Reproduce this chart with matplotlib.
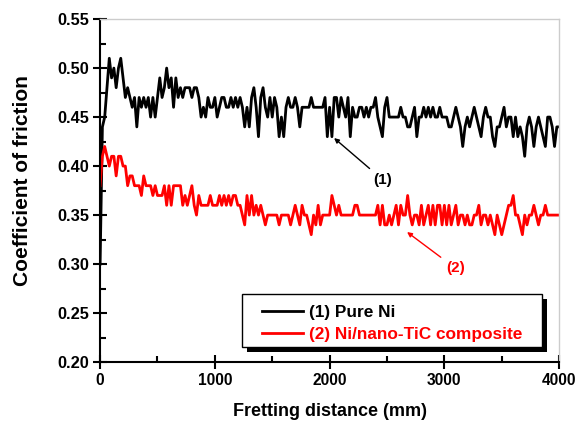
import numpy as np
import matplotlib
matplotlib.use("Agg")
import matplotlib.pyplot as plt
from matplotlib.ticker import MultipleLocator, FormatStrFormatter
from matplotlib.patches import Rectangle

plt.rcParams['font.family'] = ['Liberation Sans', 'DejaVu Sans']
plt.rcParams['font.weight'] = 'bold'

distance = np.arange(0, 4001, 20)

pure_ni = [
    0.30, 0.44, 0.45, 0.48, 0.51, 0.49, 0.50, 0.48, 0.50, 0.51,
    0.49, 0.47, 0.48, 0.47, 0.46, 0.47, 0.44, 0.47, 0.46, 0.47,
    0.46, 0.47, 0.45, 0.47, 0.45, 0.47, 0.49, 0.47, 0.48, 0.50,
    0.48, 0.49, 0.46, 0.49, 0.47, 0.48, 0.47, 0.48, 0.48, 0.48,
    0.47, 0.48, 0.48, 0.47, 0.45, 0.46, 0.45, 0.47, 0.46, 0.46,
    0.47, 0.45, 0.46, 0.47, 0.47, 0.46, 0.46, 0.47, 0.46, 0.47,
    0.46, 0.47, 0.46, 0.44, 0.46, 0.44, 0.47, 0.48, 0.46, 0.43,
    0.47, 0.48, 0.46, 0.45, 0.47, 0.45, 0.47, 0.46, 0.43, 0.45,
    0.43, 0.46, 0.47, 0.46, 0.46, 0.47, 0.46, 0.44, 0.46, 0.46,
    0.46, 0.46, 0.47, 0.46, 0.46, 0.46, 0.46, 0.46, 0.47, 0.43,
    0.46, 0.43, 0.47, 0.47, 0.45, 0.47, 0.46, 0.45, 0.47, 0.43,
    0.46, 0.45, 0.45, 0.46, 0.46, 0.45, 0.46, 0.45, 0.46, 0.46,
    0.47, 0.45, 0.44, 0.43, 0.46, 0.47, 0.45, 0.45, 0.45, 0.45,
    0.45, 0.46, 0.45, 0.45, 0.44, 0.44, 0.45, 0.46, 0.43, 0.45,
    0.45, 0.46, 0.45, 0.46, 0.45, 0.46, 0.45, 0.45, 0.46, 0.45,
    0.45, 0.45, 0.44, 0.44, 0.45, 0.46, 0.45, 0.44, 0.42, 0.44,
    0.45, 0.44, 0.45, 0.46, 0.45, 0.44, 0.43, 0.45, 0.46, 0.45,
    0.45, 0.43, 0.42, 0.44, 0.44, 0.45, 0.46, 0.44, 0.45, 0.45,
    0.43, 0.45, 0.43, 0.44, 0.43, 0.41, 0.44, 0.45, 0.44, 0.42,
    0.44, 0.45, 0.44, 0.43, 0.42, 0.45, 0.45, 0.44, 0.42, 0.44, 0.44,
]

ni_tic = [
    0.38, 0.41, 0.42, 0.41, 0.40, 0.41, 0.41, 0.39, 0.41, 0.41,
    0.40, 0.40, 0.38, 0.39, 0.39, 0.38, 0.38, 0.38, 0.37, 0.39,
    0.38, 0.38, 0.38, 0.37, 0.38, 0.37, 0.37, 0.37, 0.38, 0.36,
    0.38, 0.36, 0.38, 0.38, 0.38, 0.38, 0.36, 0.37, 0.36, 0.37,
    0.38, 0.36, 0.35, 0.37, 0.36, 0.36, 0.36, 0.36, 0.37, 0.36,
    0.36, 0.36, 0.37, 0.36, 0.37, 0.36, 0.37, 0.36, 0.37, 0.37,
    0.36, 0.36, 0.35, 0.34, 0.37, 0.35, 0.37, 0.35, 0.36, 0.35,
    0.36, 0.35, 0.34, 0.35, 0.35, 0.35, 0.35, 0.35, 0.34, 0.35,
    0.35, 0.35, 0.35, 0.34, 0.35, 0.36, 0.35, 0.34, 0.36, 0.35,
    0.35, 0.34, 0.33, 0.35, 0.34, 0.36, 0.34, 0.35, 0.35, 0.35,
    0.35, 0.37, 0.36, 0.35, 0.36, 0.35, 0.35, 0.35, 0.35, 0.35,
    0.35, 0.36, 0.36, 0.35, 0.35, 0.35, 0.35, 0.35, 0.35, 0.35,
    0.35, 0.36, 0.34, 0.36, 0.34, 0.34, 0.35, 0.34, 0.35, 0.36,
    0.34, 0.36, 0.35, 0.35, 0.37, 0.35, 0.34, 0.35, 0.35, 0.34,
    0.36, 0.34, 0.35, 0.36, 0.34, 0.36, 0.34, 0.36, 0.36, 0.34,
    0.36, 0.34, 0.36, 0.34, 0.35, 0.36, 0.34, 0.35, 0.35, 0.34,
    0.35, 0.34, 0.34, 0.35, 0.35, 0.36, 0.34, 0.35, 0.35, 0.34,
    0.35, 0.34, 0.33, 0.35, 0.34, 0.33, 0.34, 0.35, 0.36, 0.36,
    0.37, 0.35, 0.35, 0.34, 0.33, 0.35, 0.34, 0.35, 0.35, 0.36,
    0.35, 0.34, 0.35, 0.35, 0.36, 0.35, 0.35, 0.35, 0.35, 0.35, 0.35,
]

series_labels = ["(1) Pure Ni", "(2) Ni/nano-TiC composite"]
series_colors = ["black", "red"]
x_label = "Fretting distance (mm)"
y_label = "Coefficient of friction"

fig = plt.figure(figsize=(5.82, 4.24), dpi=100)
ax = fig.add_axes([0.172, 0.146, 0.7887, 0.809])

ax.plot(distance, pure_ni, color=series_colors[0], lw=2.0, label=series_labels[0])
ax.plot(distance, ni_tic, color=series_colors[1], lw=2.0, label=series_labels[1])

ax.set_xlim(0, 4000)
ax.set_ylim(0.20, 0.55)
ax.xaxis.set_major_locator(MultipleLocator(1000))
ax.xaxis.set_minor_locator(MultipleLocator(500))
ax.yaxis.set_major_locator(MultipleLocator(0.05))
ax.yaxis.set_minor_locator(MultipleLocator(0.025))
ax.yaxis.set_major_formatter(FormatStrFormatter('%.2f'))

for s in ['left', 'bottom']:
    ax.spines[s].set_linewidth(1.5)
    ax.spines[s].set_color('black')
for s in ['top', 'right']:
    ax.spines[s].set_linewidth(1.0)
    ax.spines[s].set_color('#cccccc')

ax.tick_params(which='major', direction='inout', length=10, width=1.5,
               pad=3, top=False, right=False)
ax.tick_params(which='minor', direction='in', length=4, width=1.5,
               top=False, right=False)
ax.tick_params(axis='x', which='major', labelsize=11.2)
ax.tick_params(axis='y', which='major', labelsize=11.8)
for lbl in ax.get_xticklabels() + ax.get_yticklabels():
    lbl.set_fontweight('bold')

ax.set_xlabel(x_label, fontsize=13, fontweight='bold')
ax.set_ylabel(y_label, fontsize=15, fontweight='bold')
ax.xaxis.set_label_coords(0.5, -0.12)
ax.yaxis.set_label_coords(-0.148, 0.53)

ax.annotate("(1)", xy=(2039, 0.4286), xytext=(2466, 0.3857),
            ha='center', va='center', fontsize=11, fontweight='bold', color='black',
            arrowprops=dict(arrowstyle='-|>', color='black', lw=1.0,
                            mutation_scale=7, shrinkA=2, shrinkB=0))
ax.annotate("(2)", xy=(2675, 0.3327), xytext=(3094, 0.296),
            ha='center', va='center', fontsize=11, fontweight='bold', color='red',
            arrowprops=dict(arrowstyle='-|>', color='red', lw=1.0,
                            mutation_scale=7, shrinkA=2, shrinkB=0))

# legend frame and its solid shadow (axes fraction)
box_x0, box_y0, box_w, box_h = 0.3094, 0.0437, 0.6536, 0.1545
ax.add_patch(Rectangle((box_x0 + 0.0109, box_y0 - 0.0146), box_w, box_h,
                       transform=ax.transAxes, facecolor='black',
                       edgecolor='none', zorder=5, clip_on=False))
ax.add_patch(Rectangle((box_x0, box_y0), box_w, box_h,
                       transform=ax.transAxes, facecolor='white',
                       edgecolor='black', lw=1.0, zorder=5.1, clip_on=False))

leg = ax.legend(loc='upper left', bbox_to_anchor=(0.353, 0.166),
                fontsize=12.4, frameon=False, borderpad=0, handlelength=2.4,
                handletextpad=0.3, labelspacing=0.37, borderaxespad=0)
leg.set_zorder(6)
for txt, c in zip(leg.get_texts(), series_colors):
    txt.set_color(c)
    txt.set_fontweight('bold')

fig.savefig("out.png", dpi=100)
